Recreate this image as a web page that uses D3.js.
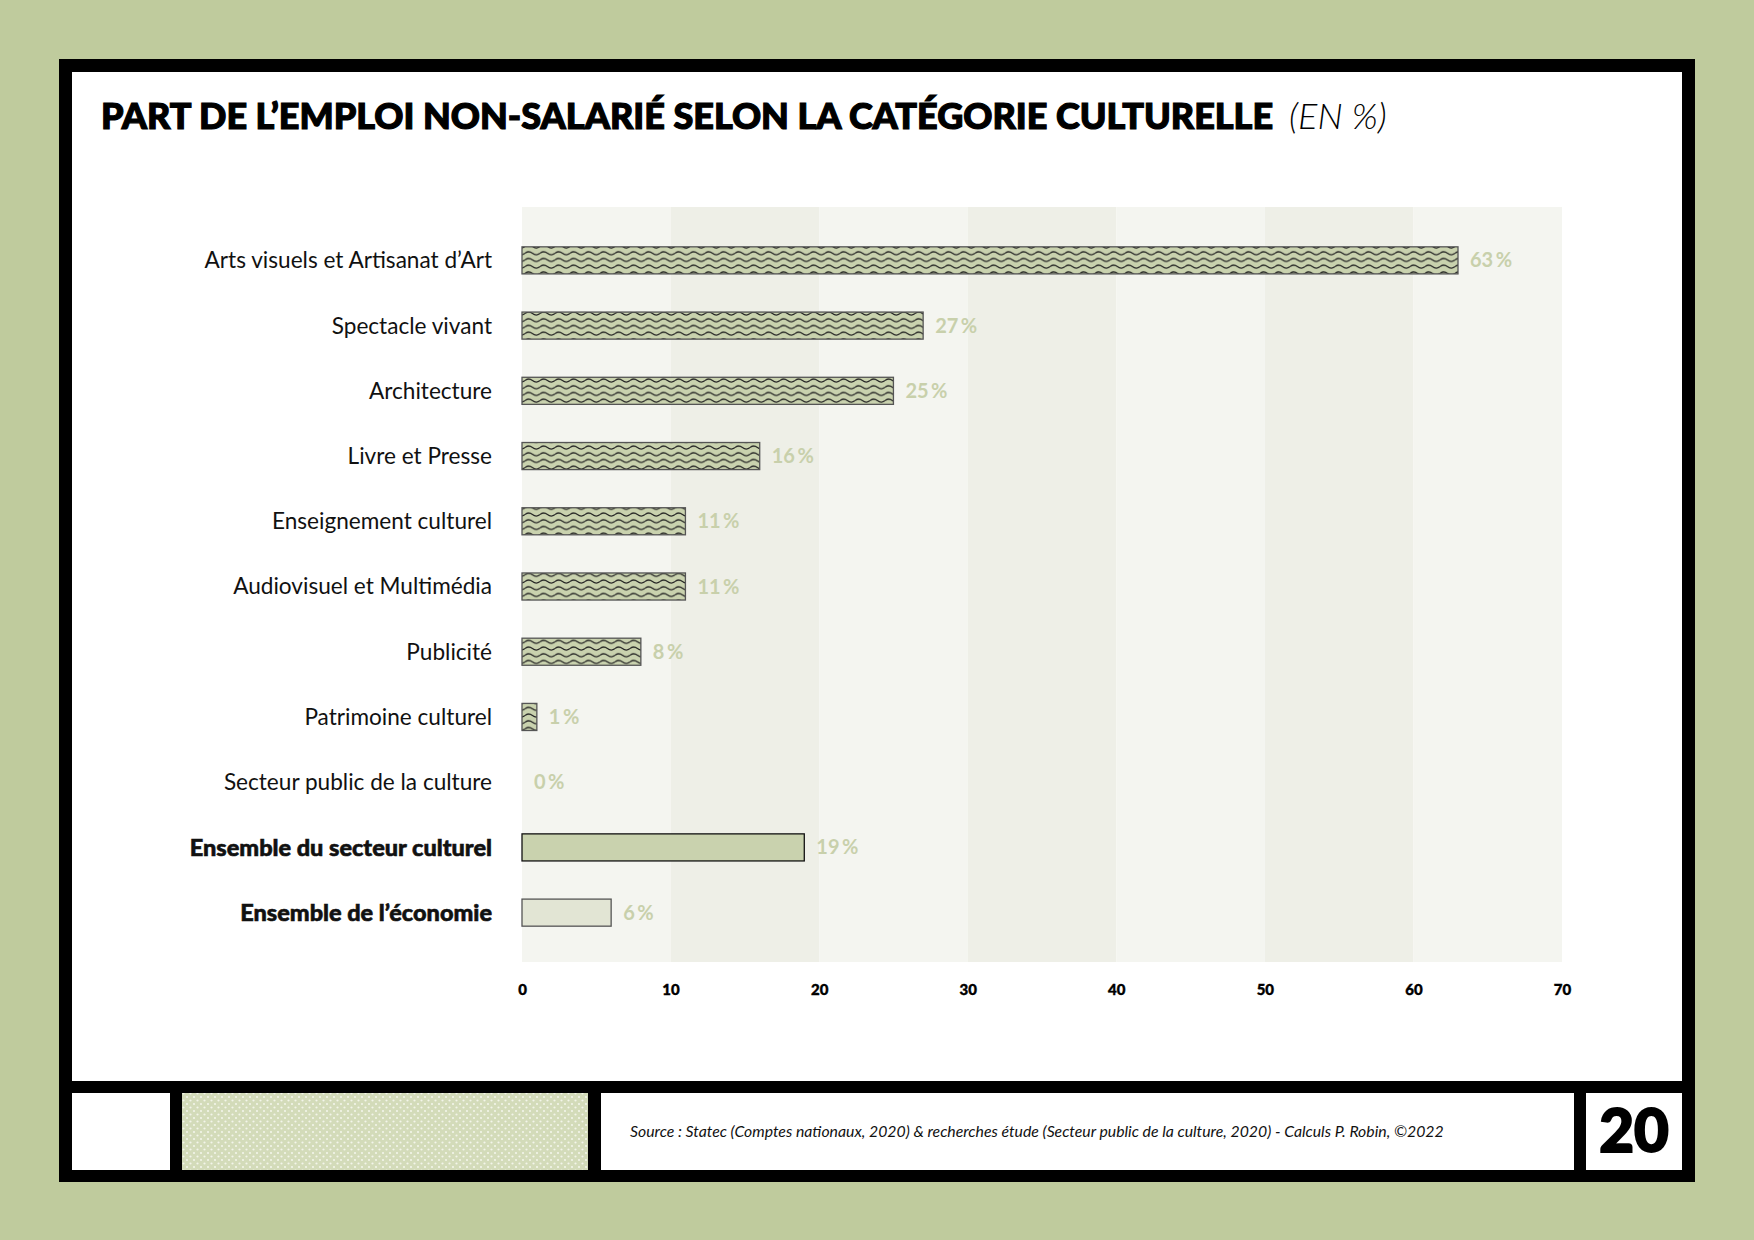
<!DOCTYPE html>
<html>
<head>
<meta charset="utf-8">
<script src="https://cdn.jsdelivr.net/npm/d3@7"></script>
<style>
body { margin:0; background:#bfcb9d; }
svg { display:block; }
</style>
</head>
<body>
<div id="chart"></div>
<script>
// Data
const categories = [
  "Arts visuels et Artisanat d’Art",
  "Spectacle vivant",
  "Architecture",
  "Livre et Presse",
  "Enseignement culturel",
  "Audiovisuel et Multimédia",
  "Publicité",
  "Patrimoine culturel",
  "Secteur public de la culture",
  "Ensemble du secteur culturel",
  "Ensemble de l’économie"
];
const values = [63, 27, 25, 16, 11, 11, 8, 1, 0, 19, 6];
const totalRows = ["Ensemble du secteur culturel", "Ensemble de l’économie"];
const xTicks = [0, 10, 20, 30, 40, 50, 60, 70];

const title = "PART DE L’EMPLOI NON-SALARIÉ SELON LA CATÉGORIE CULTURELLE";
const titleUnit = "(EN %)";
const source = "Source : Statec (Comptes nationaux, 2020) & recherches étude (Secteur public de la culture, 2020) - Calculs P. Robin, ©2022";
const pageNumber = "20";

const W = 1754, H = 1240;
const labelFont = "Lato, 'Open Sans', sans-serif";

const svg = d3.select("#chart")
  .append("svg")
  .attr("width", W)
  .attr("height", H);

// patterns
const defs = svg.append("defs");
const wave = defs.append("pattern")
  .attr("id", "wave")
  .attr("patternUnits", "userSpaceOnUse")
  .attr("width", 15)
  .attr("height", 6.7)
  .attr("y", 2);
wave.append("rect").attr("width", 15).attr("height", 6.7).attr("fill", "#c9d2ae");
wave.append("path")
  .attr("d", "M0,3.4 Q3.75,0.4 7.5,3.4 T15,3.4")
  .attr("fill", "none")
  .attr("stroke", "#222")
  .attr("stroke-width", 1.2);

const dots = defs.append("pattern")
  .attr("id", "dots")
  .attr("patternUnits", "userSpaceOnUse")
  .attr("width", 7)
  .attr("height", 7);
dots.append("rect").attr("width", 7).attr("height", 7).attr("fill", "#d3dbb9");
dots.append("circle").attr("cx", 1.5).attr("cy", 1.5).attr("r", 1.1).attr("fill", "#f3f5ea");
dots.append("circle").attr("cx", 5).attr("cy", 5).attr("r", 1.1).attr("fill", "#f3f5ea");

// page frame
svg.append("rect").attr("x", 59).attr("y", 59).attr("width", 1636).attr("height", 1123).attr("fill", "#000");
svg.append("rect").attr("x", 72).attr("y", 72).attr("width", 1610).attr("height", 1009).attr("fill", "#fff");
svg.append("rect").attr("x", 72).attr("y", 1093).attr("width", 98).attr("height", 77).attr("fill", "#fff");
svg.append("rect").attr("x", 182).attr("y", 1093).attr("width", 406).attr("height", 77).attr("fill", "url(#dots)");
svg.append("rect").attr("x", 601).attr("y", 1093).attr("width", 973).attr("height", 77).attr("fill", "#fff");
svg.append("rect").attr("x", 1586).attr("y", 1093).attr("width", 96).attr("height", 77).attr("fill", "#fff");

// title
const t = svg.append("text")
  .attr("x", 101)
  .attr("y", 129)
  .attr("font-family", labelFont)
  .attr("font-size", 36)
  .attr("font-weight", 900)
  .attr("fill", "#000")
  .attr("stroke", "#000")
  .attr("stroke-width", 1.2)
  .text(title);
t.append("tspan")
  .attr("dx", 16)
  .attr("font-weight", 300)
  .attr("font-style", "italic")
  .attr("stroke", "none")
  .text(titleUnit);

// scales
const x = d3.scaleLinear()
  .domain([0, 70])
  .range([522, 1562]);

const y = d3.scaleBand()
  .domain(categories)
  .range([209, 964])
  .paddingInner(0.585)
  .paddingOuter(0.58);

// background bands
const g = svg.append("g");
g.selectAll(".band")
  .data(xTicks.slice(0, -1))
  .enter()
  .append("rect")
  .attr("x", d => x(d))
  .attr("y", 207)
  .attr("width", d => x(d + 10) - x(d))
  .attr("height", 755)
  .attr("fill", (d, i) => i % 2 ? "#eeefe7" : "#f4f5f0");

// bars
g.selectAll(".bar")
  .data(categories)
  .enter()
  .append("rect")
  .attr("class", "bar")
  .filter((d, i) => values[i] > 0)
  .attr("x", x(0))
  .attr("y", d => y(d))
  .attr("width", d => x(values[categories.indexOf(d)]) - x(0))
  .attr("height", y.bandwidth())
  .attr("fill", d => d === totalRows[0] ? "#c9d2ae" : d === totalRows[1] ? "#e2e5d4" : "url(#wave)")
  .attr("stroke", d => d === totalRows[0] ? "#111" : "#555")
  .attr("stroke-width", 1.3);

// value labels
g.selectAll(".val")
  .data(categories)
  .enter()
  .append("text")
  .attr("x", (d, i) => x(values[i]) + 12)
  .attr("y", d => y(d) + y.bandwidth() / 2)
  .attr("dy", "0.35em")
  .attr("font-family", labelFont)
  .attr("font-size", 20)
  .attr("font-weight", 700)
  .attr("fill", "#c8d0ab")
  .text((d, i) => values[i] + "\u2009%");

// category labels
g.selectAll(".cat")
  .data(categories)
  .enter()
  .append("text")
  .attr("x", 492)
  .attr("y", d => y(d) + y.bandwidth() / 2)
  .attr("dy", "0.35em")
  .attr("text-anchor", "end")
  .attr("font-family", labelFont)
  .attr("font-size", d => totalRows.includes(d) ? 23.5 : 22.6)
  .attr("font-weight", d => totalRows.includes(d) ? 900 : 400)
  .attr("stroke", d => totalRows.includes(d) ? "#111" : "none")
  .attr("stroke-width", 0.6)
  .attr("fill", "#111")
  .text(d => d);

// x axis
const axis = svg.append("g")
  .attr("transform", "translate(0,984)")
  .call(d3.axisBottom(x).tickValues(xTicks).tickSize(0).tickPadding(0));
axis.select(".domain").remove();
axis.selectAll("text")
  .attr("font-family", labelFont)
  .attr("font-size", 15)
  .attr("font-weight", 900)
  .attr("stroke", "#000")
  .attr("stroke-width", 0.4)
  .attr("fill", "#000");

// footer
svg.append("text")
  .attr("x", 630)
  .attr("y", 1131)
  .attr("dy", "0.35em")
  .attr("font-family", labelFont)
  .attr("font-size", 15.8)
  .attr("font-style", "italic")
  .attr("font-weight", 400)
  .attr("fill", "#111")
  .text(source);

svg.append("text")
  .attr("x", 1634)
  .attr("y", 1152)
  .attr("text-anchor", "middle")
  .attr("font-family", labelFont)
  .attr("font-size", 60)
  .attr("font-weight", 900)
  .attr("stroke", "#000")
  .attr("stroke-width", 2)
  .attr("fill", "#000")
  .text(pageNumber);
</script>
</body>
</html>
